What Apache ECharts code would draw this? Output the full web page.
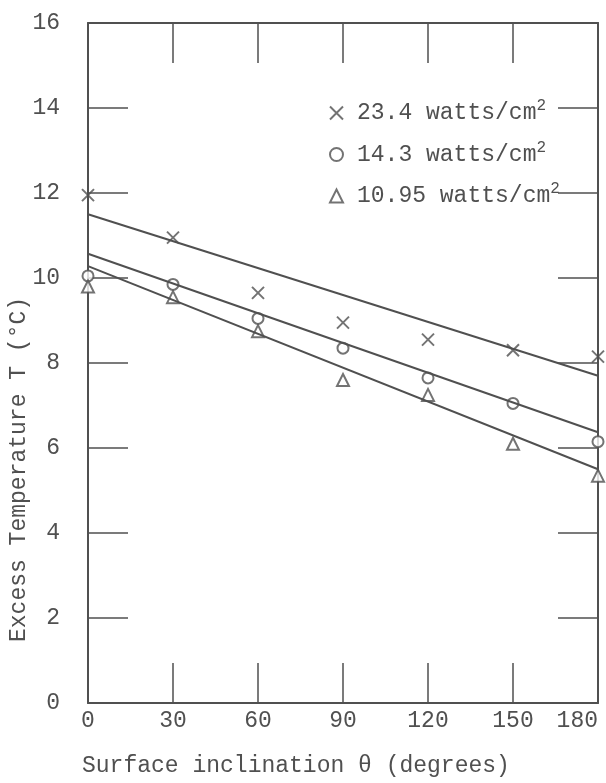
<!DOCTYPE html>
<html>
<head>
<meta charset="utf-8">
<script src="https://cdn.jsdelivr.net/npm/echarts@6/dist/echarts.min.js"></script>
<style>
    html, body { margin: 0; padding: 0; background: #fff; }
    #chart { width: 606px; height: 783px; }
</style>
</head>
<body>
<div id="chart"></div>
<script>
    // inclination angles (degrees)
    let angles = [0, 30, 60, 90, 120, 150, 180];
    // measured excess temperature per heat flux
    let temp234 = [11.95, 10.95, 9.65, 8.95, 8.55, 8.3, 8.15];
    let temp143 = [10.05, 9.85, 9.05, 8.35, 7.65, 7.05, 6.15];
    let temp1095 = [9.8, 9.55, 8.75, 7.6, 7.25, 6.1, 5.35];
    // fitted straight lines, values at 0 and 180 degrees
    let fitAngles = [0, 180];
    let fit234 = [11.5, 7.7];
    let fit143 = [10.57, 6.37];
    let fit1095 = [10.28, 5.5];
    let seriesNames = ['23.4 watts/cm', '14.3 watts/cm', '10.95 watts/cm'];

    let ink = '#505050';
    let font = '"Liberation Mono", "DejaVu Sans Mono", monospace';
    let crossPath = 'path://M0 0L10 10M10 0L0 10';

    function pairs(xs, ys) {
        return xs.map(function (x, i) { return [x, ys[i]]; });
    }

    let chart = echarts.init(document.getElementById('chart'), null, {renderer: 'canvas'});

    // frame sides: no onZero, otherwise top/right axes jump onto the other axis
    let frameLine = {onZero: false, lineStyle: {color: ink, width: 2}};
    let innerTick = {inside: true, length: 40, lineStyle: {color: ink, width: 1.5}};

    let option = {
        animation: false,
        backgroundColor: '#fff',
        grid: {left: 88, right: 8, top: 23, bottom: 80},
        legend: {
            orient: 'vertical',
            left: 324,
            top: 93,
            itemGap: 15,
            itemWidth: 13,
            itemHeight: 13,
            data: seriesNames,
            formatter: function (name) {
                return '{t|' + name + '}{s|2}';
            },
            textStyle: {
                rich: {
                    t: {fontFamily: font, fontSize: 23, color: ink, padding: [0, 0, 0, 9]},
                    s: {fontFamily: font, fontSize: 16, color: ink, padding: [0, 0, 14, 0]}
                }
            }
        },
        xAxis: [
            {
                type: 'value', min: 0, max: 180, interval: 30, position: 'bottom',
                axisLine: frameLine,
                axisTick: innerTick,
                axisLabel: {fontFamily: font, fontSize: 23, color: ink, margin: 6, alignMaxLabel: 'right'},
                splitLine: {show: false}
            },
            {
                type: 'value', min: 0, max: 180, interval: 30, position: 'top',
                axisLine: frameLine,
                axisTick: innerTick,
                axisLabel: {show: false},
                splitLine: {show: false}
            }
        ],
        yAxis: [
            {
                type: 'value', min: 0, max: 16, interval: 2, position: 'left',
                axisLine: frameLine,
                axisTick: innerTick,
                axisLabel: {fontFamily: font, fontSize: 23, color: ink, margin: 28},
                splitLine: {show: false}
            },
            {
                type: 'value', min: 0, max: 16, interval: 2, position: 'right',
                axisLine: frameLine,
                axisTick: innerTick,
                axisLabel: {show: false},
                splitLine: {show: false}
            }
        ],
        graphic: [
            {
                type: 'text', left: 82, top: 754,
                style: {text: 'Surface inclination θ (degrees)', font: '23px ' + font, fill: ink}
            },
            {
                type: 'text', x: 7, y: 642, rotation: Math.PI / 2,
                style: {text: 'Excess Temperature T (°C)', font: '23px ' + font, fill: ink}
            }
        ],
        series: [
            {
                type: 'line', data: pairs(fitAngles, fit234), symbol: 'none',
                lineStyle: {color: ink, width: 2}, silent: true
            },
            {
                type: 'line', data: pairs(fitAngles, fit143), symbol: 'none',
                lineStyle: {color: ink, width: 2}, silent: true
            },
            {
                type: 'line', data: pairs(fitAngles, fit1095), symbol: 'none',
                lineStyle: {color: ink, width: 2}, silent: true
            },
            {
                name: seriesNames[0], type: 'scatter', data: pairs(angles, temp234),
                symbol: crossPath, symbolSize: 12,
                itemStyle: {color: 'transparent', borderColor: ink, borderWidth: 2}
            },
            {
                name: seriesNames[1], type: 'scatter', data: pairs(angles, temp143),
                symbol: 'emptyCircle', symbolSize: 11,
                itemStyle: {color: ink, borderColor: ink, borderWidth: 2}
            },
            {
                name: seriesNames[2], type: 'scatter', data: pairs(angles, temp1095),
                symbol: 'emptyTriangle', symbolSize: 12,
                itemStyle: {color: ink, borderColor: ink, borderWidth: 2}
            }
        ]
    };

    chart.setOption(option);
</script>
</body>
</html>
